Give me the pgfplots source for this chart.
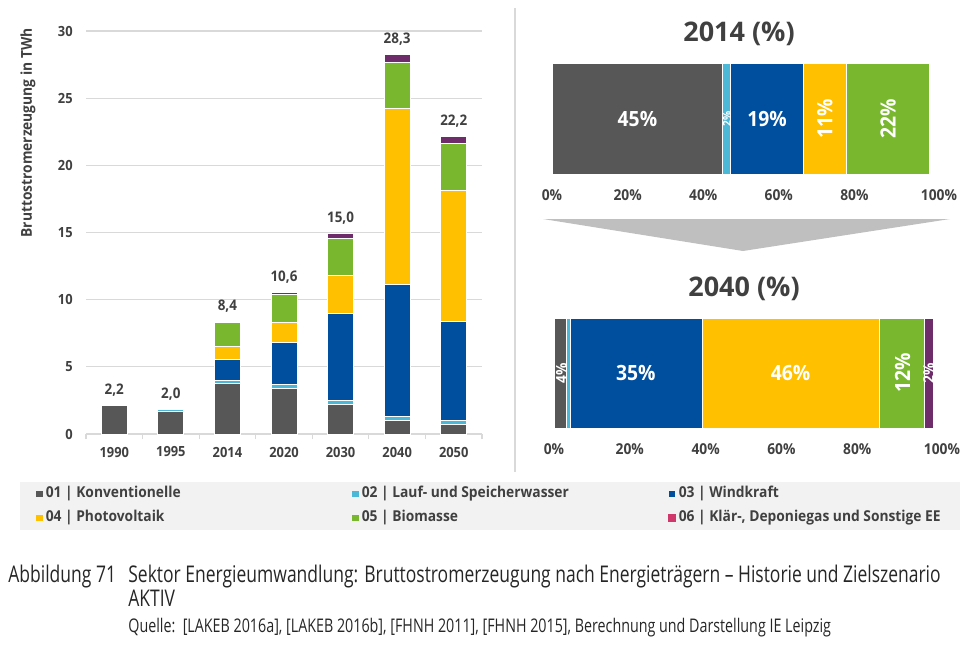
\documentclass[border=0pt]{standalone}
\usepackage{pgfplots}
\usepackage{pgfplotstable}
\pgfplotsset{compat=1.18}
\usepackage{fontspec}
\setmainfont{Open Sans}
\newfontfamily\cf[FakeStretch=0.92]{Open Sans}
\newfontfamily\capf[FakeStretch=0.76]{Open Sans}
\definecolor{cgray}{HTML}{575757}
\definecolor{chydro}{HTML}{4BB8D8}
\definecolor{cwind}{HTML}{004F9E}
\definecolor{cpv}{HTML}{FFC000}
\definecolor{cbio}{HTML}{78B72E}
\definecolor{cother}{HTML}{6E2C6B}
\definecolor{cpink}{HTML}{D0386B}
\definecolor{txt}{HTML}{404040}
\definecolor{gridc}{HTML}{D9D9D9}
\definecolor{legbg}{HTML}{F2F2F2}
\definecolor{arrowc}{HTML}{BFBFBF}
\definecolor{capc}{HTML}{262626}

\pgfplotstableread{
x g h w p b o
0 2.10 0.00 0.00 0.00 0.00 0.00
1 1.70 0.15 0.00 0.00 0.00 0.00
2 3.77 0.22 1.55 0.97 1.80 0.05
3 3.40 0.32 3.10 1.47 2.11 0.17
4 2.21 0.32 6.45 2.81 2.78 0.37
5 0.99 0.30 9.85 13.10 3.43 0.55
6 0.72 0.32 7.37 9.75 3.43 0.54
}\abs
\pgfplotstableread{
x t l
0 2.10 2,2
1 1.85 2,0
2 8.36 8,4
3 10.57 10,6
4 14.94 15,0
5 28.22 28,3
6 22.13 22,2
}\tot
\pgfplotstableread{
y g h w p b o
0 45.2 2.1 19.2 11.3 22.0 0.2
}\sA
\pgfplotstableread{
y g h w p b o
0 3.2 1.1 34.9 46.7 11.9 2.2
}\sB

\newcommand\legtxt[1]{\makebox[131pt][l]{#1}}

\pgfplotsset{
  segs/.style={draw=white, line width=0.5pt},
  sqleg/.style={legend image code/.code={\fill[##1, draw=none] (0pt,-1.6pt) rectangle (3.2pt,1.6pt);}},
  leftgeom/.style={at={(43pt,105pt)}, anchor=south west,
    scale only axis, width=198pt, height=201.5pt,
    xmin=-0.5, xmax=6.5, ymin=0, ymax=30},
  pctaxis/.style={
    scale only axis, anchor=south west, height=55pt,
    xmin=0, xmax=100, ymin=-0.5, ymax=0.5, clip=false,
  },
  pctbars/.style={
    pctaxis, xbar stacked, bar width=55pt,
    axis line style={draw=none}, ytick=\empty,
    xtick={0,20,...,100}, xticklabels={0\%,20\%,40\%,60\%,80\%,\hspace*{9pt}100\%},
    major tick length=0pt,
    xticklabel style={anchor=center, inner sep=0pt, yshift=-10.5pt, text=txt,
      font=\cf\bfseries\fontsize{7.5pt}{8pt}\selectfont},
  },
  inlab/.style={draw=none, mark=none, nodes near coords, point meta=explicit symbolic,
    every node near coord/.style={anchor=center, text=white, inner sep=0pt,
      font=\cf\bfseries\fontsize{#1}{10pt}\selectfont}},
  inlabrot/.style={draw=none, mark=none, nodes near coords, point meta=explicit symbolic,
    every node near coord/.style={anchor=center, rotate=90, text=white, inner sep=0pt,
      font=\cf\bfseries\fontsize{#1}{10pt}\selectfont}},
}

\begin{document}
\begin{tikzpicture}
\path[use as bounding box] (0,0) rectangle (488.5pt,322pt);

% ---------- left stacked bar chart ----------
\begin{axis}[
  leftgeom,
  ybar stacked, bar width=13pt,
  xtick={0,...,6}, xticklabels={1990,1995,2014,2020,2030,2040,2050},
  minor xtick={-0.5,0.5,...,6.5},
  ytick={0,5,...,30},
  axis x line*=bottom, axis y line*=left,
  x axis line style={draw=gridc, line width=0.7pt, -},
  y axis line style={draw=none},
  ymajorgrids, major grid style={draw=gridc, line width=0.6pt},
  major tick length=0pt, minor tick length=2.5pt, tick align=outside,
  minor tick style={draw=gridc, line width=0.6pt},
  /pgf/number format/assume math mode=true,
  ticklabel style={text=txt, font=\cf\bfseries\fontsize{7pt}{8pt}\selectfont},
  xticklabel style={anchor=center, inner sep=0pt, yshift=-9pt},
  yticklabel style={anchor=east, inner sep=0pt, xshift=-6.5pt},
  ylabel={Bruttostromerzeugung in TWh},
  ylabel style={at={(axis description cs:-0.1465,0.747)}, anchor=center, rotate=0,
    text=txt, font=\cf\bfseries\fontsize{7.5pt}{8pt}\selectfont},
  legend columns=3,
  legend cell align=left,
  legend style={
    at={(axis description cs:-0.1667,-0.1191)}, anchor=north west,
    fill=legbg, draw=none, inner xsep=8pt, inner ysep=1pt,
    text=txt, font=\cf\bfseries\fontsize{7.5pt}{8pt}\selectfont,
    nodes={inner sep=1.5pt, text height=5.2pt, text depth=1.6pt},
    /tikz/every odd column/.style={column sep=0pt},
    /tikz/every even column/.style={column sep=20.8pt},
    row sep=2pt,
  },
]
\addplot[segs, fill=cgray, sqleg] table[x=x, y=g] {\abs};
\addlegendentry{\legtxt{01 | Konventionelle}}
\addplot[segs, fill=chydro, sqleg] table[x=x, y=h] {\abs};
\addlegendentry{\legtxt{02 | Lauf- und Speicherwasser}}
\addplot[segs, fill=cwind, sqleg] table[x=x, y=w] {\abs};
\addlegendentry{\legtxt{03 | Windkraft}}
\addplot[segs, fill=cpv, sqleg] table[x=x, y=p] {\abs};
\addlegendentry{\legtxt{04 | Photovoltaik}}
\addplot[segs, fill=cbio, sqleg] table[x=x, y=b] {\abs};
\addlegendentry{\legtxt{05 | Biomasse}}
\addplot[segs, fill=cother, legend image code/.code={\fill[cpink] (0pt,-1.6pt) rectangle (3.2pt,1.6pt);}] table[x=x, y=o] {\abs};
\addlegendentry{\legtxt{06 | Klär-, Deponiegas und Sonstige EE}}
\end{axis}
% totals above the bars
\begin{axis}[leftgeom, hide axis, clip=false]
\addplot[draw=none, mark=none, nodes near coords, point meta=explicit symbolic,
  every node near coord/.style={anchor=base, inner sep=0pt, yshift=5.5pt, text=txt,
    font=\cf\bfseries\fontsize{7.3pt}{8pt}\selectfont}]
  table[x=x, y=t, meta=l] {\tot};
\end{axis}

% ---------- 2014 share bar ----------
\begin{axis}[pctbars, at={(276pt,235pt)}, width=189pt]
\addplot[segs, fill=cgray] table[x=g, y=y] {\sA};
\addplot[segs, fill=chydro] table[x=h, y=y] {\sA};
\addplot[segs, fill=cwind] table[x=w, y=y] {\sA};
\addplot[segs, fill=cpv] table[x=p, y=y] {\sA};
\addplot[segs, fill=cbio] table[x=b, y=y] {\sA};
\addplot[segs, fill=cother] table[x=o, y=y] {\sA};
\end{axis}
\begin{axis}[pctaxis, hide axis, at={(276pt,235pt)}, width=189pt]
\addplot[inlab=10.5pt] coordinates {(22.6,0) [45\%] (56.9,0) [19\%]};
\addplot[inlabrot=5.5pt] coordinates {(46.3,0) [2\%]};
\addplot[inlabrot=10.5pt] coordinates {(72.2,0) [11\%] (88.9,0) [22\%]};
\end{axis}

% ---------- 2040 share bar ----------
\begin{axis}[pctbars, at={(277pt,108pt)}, width=189.5pt]
\addplot[segs, fill=cgray] table[x=g, y=y] {\sB};
\addplot[segs, fill=chydro] table[x=h, y=y] {\sB};
\addplot[segs, fill=cwind] table[x=w, y=y] {\sB};
\addplot[segs, fill=cpv] table[x=p, y=y] {\sB};
\addplot[segs, fill=cbio] table[x=b, y=y] {\sB};
\addplot[segs, fill=cother] table[x=o, y=y] {\sB};
\end{axis}
\begin{axis}[pctaxis, hide axis, at={(277pt,108pt)}, width=189.5pt]
\addplot[inlab=10.5pt] coordinates {(21.6,0) [35\%] (62.4,0) [46\%]};
\addplot[inlabrot=7.5pt] coordinates {(2.0,0) [4\%] (98.9,0) [2\%]};
\addplot[inlabrot=10.5pt] coordinates {(92.0,0) [12\%]};
\end{axis}

% ---------- decorations and texts ----------
\begin{scope}[x=0.5pt, y=0.5pt]
\draw[gridc, line width=1pt] (515,636) -- (515,172);
\fill[arrowc] (543,425) -- (950,425) -- (743,393) -- cycle;
\node[text=txt, font=\bfseries\fontsize{13.5pt}{14pt}\selectfont] at (739,610) {2014 (\%)};
\node[text=txt, font=\bfseries\fontsize{13.5pt}{14pt}\selectfont] at (744,355) {2040 (\%)};
\node[anchor=base west, inner sep=0pt, text=capc, font=\capf\fontsize{11.5pt}{12pt}\selectfont] at (8,62) {Abbildung 71};
\node[anchor=base west, inner sep=0pt, text=capc, font=\capf\fontsize{11.5pt}{12pt}\selectfont] at (128,62) {Sektor Energieumwandlung: Bruttostromerzeugung nach Energieträgern – Historie und Zielszenario};
\node[anchor=base west, inner sep=0pt, text=capc, font=\capf\fontsize{11.5pt}{12pt}\selectfont] at (128,38) {AKTIV};
\node[anchor=base west, inner sep=0pt, text=capc, font=\capf\fontsize{9.4pt}{10pt}\selectfont] at (128,12) {Quelle:\ \ [LAKEB 2016a], [LAKEB 2016b], [FHNH 2011], [FHNH 2015], Berechnung und Darstellung IE Leipzig};
\end{scope}
\end{tikzpicture}
\end{document}
